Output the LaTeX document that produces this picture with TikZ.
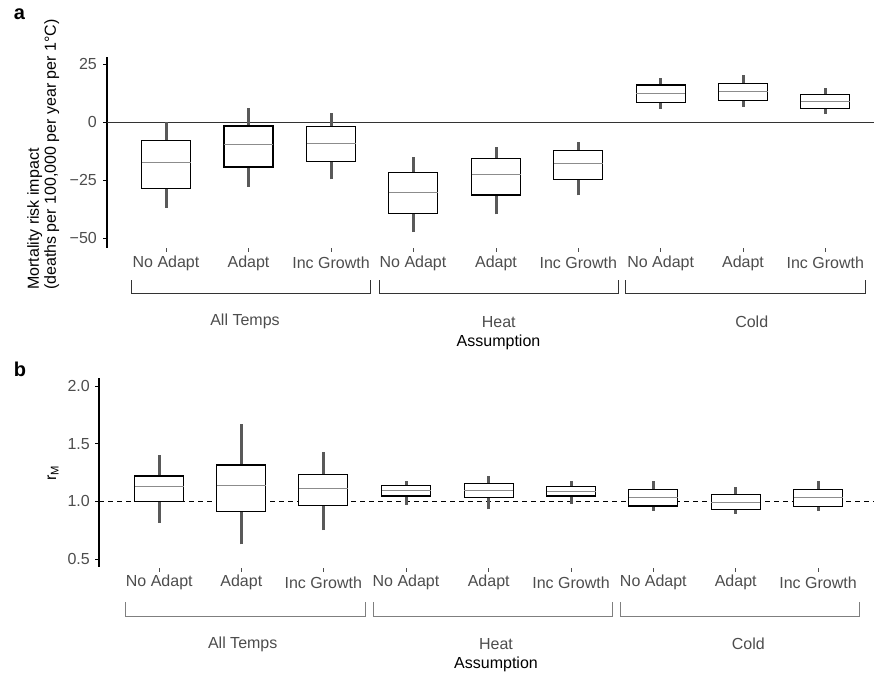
\documentclass[tikz,border=0pt]{standalone}
\usepackage{fontspec}
\setmainfont{Liberation Sans}
\usepackage{xcolor}
\definecolor{txtgray}{HTML}{4D4D4D}
\definecolor{whiskgray}{HTML}{595959}
\definecolor{medgray}{HTML}{8C8C8C}
\definecolor{brackgray}{HTML}{7F7F7F}

\begin{document}
\begin{tikzpicture}[x=1pt,y=-1pt,
	lab/.style={txtgray, font=\fontsize{16}{17}\selectfont, inner sep=0pt},
	paneltag/.style={font=\fontsize{20}{22}\selectfont\bfseries, inner sep=0pt},
	whisker/.style={whiskgray, line width=3pt},
	boxline/.style={draw=black, fill=white, line width=1.3pt},
	median/.style={medgray, line width=1pt}]
		\useasboundingbox (0,0) rectangle (874,677);
		
		%%%% panel a
		\node[paneltag] (taga) at (19.5,14) {a};
		%draw y axis and ticks
		\draw[line width=1.2pt] (107,57) -- (107,248);
		\foreach \v/\t in {25/25, 0/0, -25/−25, -50/−50}{
			\draw[line width=0.8pt] (103,{122-2.32*(\v)}) -- (107,{122-2.32*(\v)});
			\node[lab, anchor=east] at (97,{122-2.32*(\v)}) {\t};
		}
		\node[lab, black, rotate=90, anchor=north west, align=left] (ytitlea) at (27,290)
			{Mortality risk impact\\(deaths per 100,000 per year per 1°C)};
		%draw zero line
		\draw[black!80, line width=0.8pt] (107,122) -- (874,122);
		%draw boxes
		\foreach \x/\lo/\qa/\md/\qb/\hi in {166/-37/-28.6/-17.5/-8/0, 248.5/-28/-19.4/-9.8/-1.7/6,
			331/-24.7/-17/-9.2/-1.9/4, 413/-47.5/-39.4/-30.5/-21.8/-15.2,
			496/-39.8/-31.5/-22.8/-15.8/-10.6, 578.3/-31.6/-24.7/-18/-12.4/-8.8,
			660.7/5.7/8.5/12.4/15.9/19, 743/6.5/9.3/13/16.7/20.1, 825.3/3.4/5.9/8.8/11.8/14.5}{
			\draw[whisker] (\x,{122-2.32*(\lo)}) -- (\x,{122-2.32*(\hi)});
			\draw[boxline] (\x-24.5,{122-2.32*(\qa)}) rectangle (\x+24.5,{122-2.32*(\qb)});
			\draw[median] (\x-24.5,{122-2.32*(\md)}) -- (\x+24.5,{122-2.32*(\md)});
		}
		%draw x ticks and labels
		\foreach \x/\t in {166/No Adapt, 248.5/Adapt, 331/Inc Growth, 413/No Adapt, 496/Adapt,
			578.3/Inc Growth, 660.7/No Adapt, 743/Adapt, 825.3/Inc Growth}{
			\draw[txtgray, line width=1pt] (\x,248) -- (\x,252);
			\node[lab] at (\x,263) {\t};
		}
		%draw brackets
		\foreach \l/\r/\c/\g in {131.7/370.3/245/All Temps, 379/618/498.7/Heat, 625.7/865.3/751.7/Cold}{
			\draw[black!80, line width=1pt] (\l,280) -- (\l,293.3) -- (\r,293.3) -- (\r,280);
			\node[lab] at (\c,321.7) {\g};
		}
		\node[lab, black] (assumpa) at (498.5,342) {Assumption};
		
		%%%% panel b
		\node[paneltag] (tagb) at (20,369) {b};
		%draw y axis and ticks
		\draw[line width=1.2pt] (99,378) -- (99,567);
		\foreach \v in {2.0, 1.5, 1.0, 0.5}{
			\draw[line width=0.8pt] (95,{501.3-115.3*(\v-1)}) -- (99,{501.3-115.3*(\v-1)});
			\node[lab, anchor=east] at (90,{501.3-115.3*(\v-1)}) {\v};
		}
		\node[lab, black, rotate=90] (ytitleb) at (53,473) {r\textsubscript{M}};
		%draw dashed line
		\draw[black, line width=0.8pt, dash pattern=on 5pt off 4pt] (99,501.3) -- (874,501.3);
		%draw boxes
		\foreach \x/\lo/\qa/\md/\qb/\hi in {159.3/0.815/1.0/1.127/1.22/1.40, 241.3/0.627/0.91/1.14/1.315/1.668,
			323.3/0.75/0.962/1.113/1.234/1.43, 406/0.97/1.046/1.092/1.139/1.18,
			488.7/0.93/1.031/1.092/1.153/1.22, 571/0.98/1.046/1.087/1.13/1.173,
			653.3/0.92/0.96/1.035/1.104/1.18, 735.7/0.89/0.93/0.991/1.061/1.124,
			818/0.916/0.953/1.029/1.104/1.173}{
			\draw[whisker] (\x,{501.3-115.3*(\lo-1)}) -- (\x,{501.3-115.3*(\hi-1)});
			\draw[boxline] (\x-24.5,{501.3-115.3*(\qa-1)}) rectangle (\x+24.5,{501.3-115.3*(\qb-1)});
			\draw[median] (\x-24.5,{501.3-115.3*(\md-1)}) -- (\x+24.5,{501.3-115.3*(\md-1)});
		}
		%draw x ticks and labels
		\foreach \x/\t in {159.3/No Adapt, 241.3/Adapt, 323.3/Inc Growth, 406/No Adapt, 488.7/Adapt,
			571/Inc Growth, 653.3/No Adapt, 735.7/Adapt, 818/Inc Growth}{
			\draw[txtgray, line width=1pt] (\x,568) -- (\x,572);
			\node[lab] at (\x,582.3) {\t};
		}
		%draw brackets
		\foreach \l/\r/\c/\g in {125.7/365/242.7/All Temps, 373.7/612.7/496/Heat, 620/859/748.3/Cold}{
			\draw[brackgray, line width=1pt] (\l,602) -- (\l,616) -- (\r,616) -- (\r,602);
			\node[lab] at (\c,644) {\g};
		}
		\node[lab, black] (assumpb) at (496,664) {Assumption};
		
		\end{tikzpicture}
\end{document}
